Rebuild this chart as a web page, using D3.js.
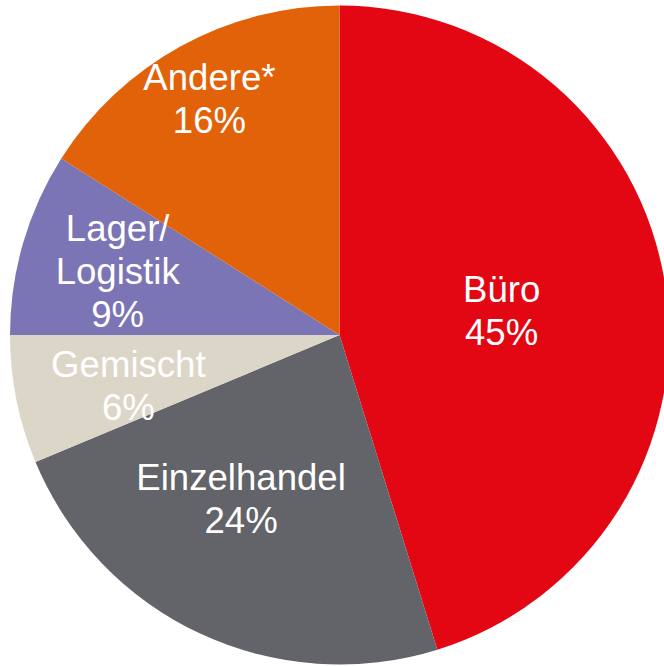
<!DOCTYPE html>
<html>
<head>
<meta charset="utf-8">
<script src="https://cdn.jsdelivr.net/npm/d3@7"></script>
<style>
    body { margin: 0; background: #ffffff; }
    #chart { width: 664px; height: 666px; overflow: hidden; }
    .slice-label { font-family: "Liberation Sans", Arial, sans-serif; font-size: 36.6px; fill: #ffffff; }
</style>
</head>
<body>
<div id="chart"></div>
<script>
// data (clockwise from 12 o'clock)
let categories = ["Büro", "Einzelhandel", "Gemischt", "Lager/\nLogistik", "Andere*"];
let shares = [45.2, 23.5, 6.3, 9.0, 16.0];
let colors = ["#e30613", "#636469", "#dcd6c8", "#7b75b5", "#e2620a"];

let width = 664, height = 666;
let cx = 339.5, cy = 335, radius = 329.5;

// label placement: distance from centre and small angle nudge (degrees)
let labelRadius = [164, 191, 217, 231, 270];
let labelNudge = [0, 6, -2, 0, 0];
let lineHeight = 43;

let svg = d3.select("#chart").append("svg")
    .attr("width", width)
    .attr("height", height)
    .append("g")
    .attr("transform", `translate(${cx},${cy})`);

let pie = d3.pie()
    .sort(null)
    .value(d => d.value);

let data = categories.map((c, i) => ({name: c, value: shares[i], color: colors[i]}));
let arcs = pie(data);

let arc = d3.arc()
    .innerRadius(0)
    .outerRadius(radius);

svg.selectAll(".slice")
    .data(arcs)
    .enter()
    .append("path")
    .attr("class", "slice")
    .attr("d", arc)
    .attr("fill", d => d.data.color);

let labels = svg.selectAll(".slice-label")
    .data(arcs)
    .enter()
    .append("text")
    .attr("class", "slice-label")
    .attr("text-anchor", "middle")
    .attr("transform", (d, i) => {
        let a = (d.startAngle + d.endAngle) / 2 + labelNudge[i] * Math.PI / 180;
        let r = labelRadius[i];
        return `translate(${r * Math.sin(a)},${-r * Math.cos(a)})`;
    });

labels.each(function (d) {
    let lines = d.data.name.split("\n").concat([Math.round(d.data.value) + "%"]);
    let top = -(lines.length - 1) * lineHeight / 2 + 13;
    d3.select(this).selectAll("tspan")
        .data(lines)
        .enter()
        .append("tspan")
        .attr("x", 0)
        .attr("y", (l, j) => top + j * lineHeight)
        .text(l => l);
});
</script>
</body>
</html>
